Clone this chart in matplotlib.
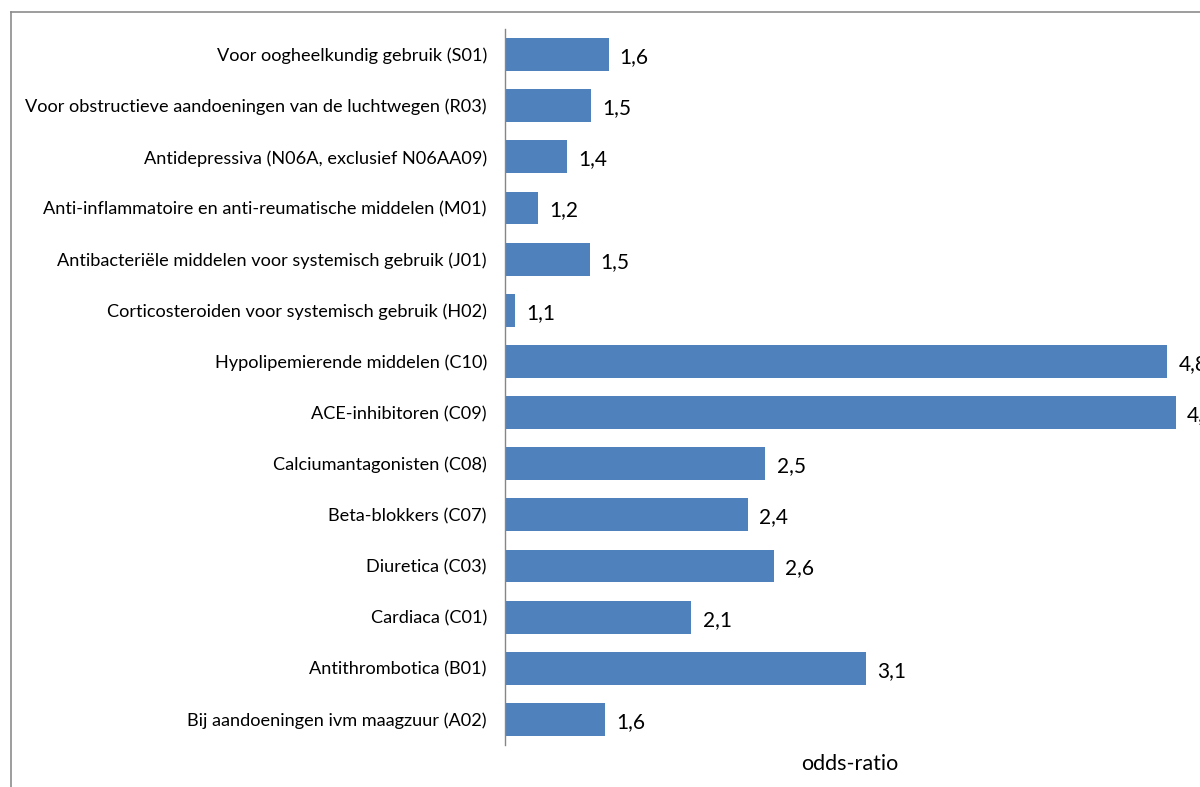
import matplotlib.pyplot as plt
from matplotlib.lines import Line2D

categories = [
    "Voor oogheelkundig gebruik (S01)",
    "Voor obstructieve aandoeningen van de luchtwegen (R03)",
    "Antidepressiva (N06A, exclusief N06AA09)",
    "Anti-inflammatoire en anti-reumatische middelen (M01)",
    "Antibacteriële middelen voor systemisch gebruik (J01)",
    "Corticosteroiden voor systemisch gebruik (H02)",
    "Hypolipemierende middelen (C10)",
    "ACE-inhibitoren (C09)",
    "Calciumantagonisten (C08)",
    "Beta-blokkers (C07)",
    "Diuretica (C03)",
    "Cardiaca (C01)",
    "Antithrombotica (B01)",
    "Bij aandoeningen ivm maagzuur (A02)",
]
odds_ratio = [1.60, 1.50, 1.36, 1.19, 1.49, 1.06, 4.84, 4.89,
              2.51, 2.41, 2.56, 2.08, 3.09, 1.58]

W, H = 1200, 787
plt.rcParams['font.family'] = ['Lato', 'DejaVu Sans']
fig = plt.figure(figsize=(W / 100, H / 100), dpi=100)
ax = fig.add_axes([505 / W, 42 / H, 690 / W, 716 / H])

base = 1.0
y = list(range(len(categories)))
widths = [v - base for v in odds_ratio]
ax.barh(y, widths, left=base, height=0.645, color='#4F81BD')

for yi, v in zip(y, odds_ratio):
    ax.text(v + 0.065, yi + 0.05, f"{v:.1f}".replace('.', ','), ha='left', va='center',
            fontsize=15, color='black', clip_on=False)

ax.set_xlim(1, 5)
ax.set_ylim(len(categories) - 0.5, -0.5)
ax.set_yticks(y)
ax.set_yticklabels(categories, fontsize=13.1)
ax.tick_params(axis='y', length=0, pad=13)
ax.set_xticks([])
for s in ['top', 'right', 'bottom']:
    ax.spines[s].set_visible(False)
ax.spines['left'].set_color('#868686')
ax.spines['left'].set_linewidth(1)

fig.text(850 / W, 1 - 764 / H, "odds-ratio", ha='center', va='center', fontsize=15.5)

# chart frame (partly cut off at the right and bottom)
fc = '#8c8c8c'
fig.add_artist(Line2D([11 / W, 11 / W], [1 - 12 / H, 0], color=fc, lw=1.2))
fig.add_artist(Line2D([11 / W, 1], [1 - 12 / H, 1 - 12 / H], color=fc, lw=1.2))

fig.savefig("out.png", dpi=100)
